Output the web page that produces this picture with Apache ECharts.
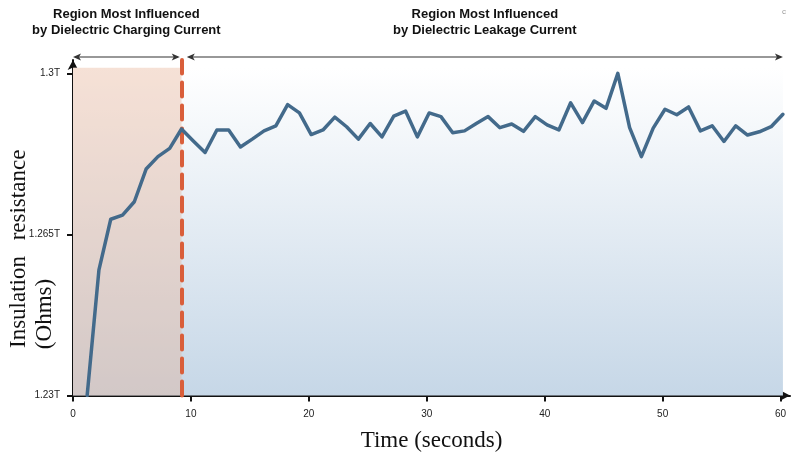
<!DOCTYPE html>
<html>
<head>
<meta charset="utf-8">
<script src="https://cdn.jsdelivr.net/npm/echarts@6/dist/echarts.min.js"></script>
<style>
  html, body { margin: 0; padding: 0; background: #ffffff; }
  #chart { width: 793px; height: 455px; }
</style>
</head>
<body>
<div id="chart"></div>
<script>
// Insulation resistance test: sample times (s) and measured resistance (TΩ)
const timeSec = [
  1.2, 2.2, 3.2, 4.2, 5.2, 6.2, 7.2, 8.2, 9.2, 10.2,
  11.2, 12.2, 13.2, 14.2, 15.2, 16.2, 17.2, 18.2, 19.2, 20.2,
  21.2, 22.2, 23.2, 24.2, 25.2, 26.2, 27.2, 28.2, 29.2, 30.2,
  31.2, 32.2, 33.2, 34.2, 35.2, 36.2, 37.2, 38.2, 39.2, 40.2,
  41.2, 42.2, 43.2, 44.2, 45.2, 46.2, 47.2, 48.2, 49.2, 50.2,
  51.2, 52.2, 53.2, 54.2, 55.2, 56.2, 57.2, 58.2, 59.2, 60.2
];
const resistanceT = [
  1.2300, 1.2573, 1.2683, 1.2692, 1.2721, 1.2792, 1.2819, 1.2837, 1.2879, 1.2853,
  1.2828, 1.2877, 1.2877, 1.2840, 1.2857, 1.2875, 1.2886, 1.2932, 1.2914, 1.2867,
  1.2877, 1.2905, 1.2884, 1.2857, 1.2891, 1.2862, 1.2907, 1.2918, 1.2862, 1.2914,
  1.2906, 1.2871, 1.2875, 1.2891, 1.2906, 1.2882, 1.2890, 1.2874, 1.2906, 1.2888,
  1.2877, 1.2936, 1.2893, 1.2940, 1.2924, 1.3000, 1.2882, 1.2819, 1.2881, 1.2922,
  1.2910, 1.2927, 1.2875, 1.2886, 1.2852, 1.2886, 1.2866, 1.2873, 1.2884, 1.2911
];
const xTicks = [0, 10, 20, 30, 40, 50, 60];
const yTicks = [1.23, 1.265, 1.3];

// Boundary between the charging-current and leakage-current regions (s)
const chargingEnd = 9.2;
const regionTitles = [
  'Region Most Influenced\nby Dielectric Charging Current',
  'Region Most Influenced\nby Dielectric Leakage Current'
];
const regionSpans = [[0, 9.05], [9.65, 60.2]];

const X_MIN = 0, X_MAX = 60.8;
const Y_MIN = 1.23, Y_MAX = 1.3029;
const SHADE_TOP = 1.3012;

const chart = echarts.init(document.getElementById('chart'), null, { renderer: 'canvas' });

const seriesData = timeSec.map((t, i) => [t, resistanceT[i]]);

const axisColor = '#111111';
const tickFont = { fontFamily: 'Liberation Sans, Arial, sans-serif', fontSize: 10, color: '#222222' };

chart.setOption({
  animation: false,
  backgroundColor: '#ffffff',
  grid: { left: 73, right: 3, top: 60, bottom: 59.5, containLabel: false, outerBoundsMode: 'none' },
  xAxis: {
    type: 'value',
    min: X_MIN, max: X_MAX,
    name: 'Time (seconds)',
    nameLocation: 'middle',
    nameGap: 34,
    nameTextStyle: { fontFamily: 'Liberation Serif, Times New Roman, serif', fontSize: 23, color: '#111111' },
    axisLine: { show: true, symbol: ['none', 'arrow'], symbolSize: [8, 10], lineStyle: { color: axisColor, width: 2 } },
    axisTick: { show: true, length: 6, customValues: xTicks, lineStyle: { color: axisColor, width: 2 } },
    axisLabel: { customValues: xTicks, margin: 14, ...tickFont },
    splitLine: { show: false }
  },
  yAxis: {
    type: 'value',
    min: Y_MIN, max: Y_MAX,
    axisLine: { show: true, symbol: ['none', 'arrow'], symbolSize: [8, 10], lineStyle: { color: axisColor, width: 2 } },
    axisTick: { show: true, length: 6, customValues: yTicks, lineStyle: { color: axisColor, width: 2 } },
    axisLabel: { customValues: yTicks, margin: 13, formatter: v => v + 'T', ...tickFont },
    splitLine: { show: false }
  },
  series: [{
    type: 'line',
    data: seriesData,
    showSymbol: false,
    symbol: 'none',
    clip: true,
    z: 5,
    lineStyle: { color: '#436a8b', width: 3.5, join: 'round', cap: 'round' },
    markArea: {
      silent: true,
      data: [
        [
          { xAxis: 0, yAxis: Y_MIN, itemStyle: {
              color: { type: 'linear', x: 0, y: 0, x2: 0, y2: 1,
                colorStops: [{ offset: 0, color: '#ffffff' }, { offset: 1, color: '#c6d7e7' }] } } },
          { xAxis: timeSec[timeSec.length - 1], yAxis: SHADE_TOP }
        ],
        [
          { xAxis: 0, yAxis: Y_MIN, itemStyle: { color: 'rgba(232, 176, 148, 0.38)' } },
          { xAxis: chargingEnd, yAxis: SHADE_TOP }
        ]
      ]
    },
    markLine: {
      silent: true,
      symbol: ['none', 'none'],
      label: { show: false },
      lineStyle: { color: '#d95e3a', width: 4, type: [14, 9], cap: 'round' },
      data: [{ xAxis: chargingEnd }]
    }
  }]
});

// Annotation arrows and region titles above the plot
function px(x, y) { return chart.convertToPixel({ gridIndex: 0 }, [x, y]); }

const arrowY = 57;
const arrowColor = '#333333';
const graphics = [];

function arrowHead(x, y, dir) {
  const len = 8, half = 3.5;
  return {
    type: 'polygon',
    shape: { points: [[x, y], [x - dir * len, y - half], [x - dir * len + dir * 2, y], [x - dir * len, y + half]] },
    style: { fill: arrowColor }
  };
}

regionSpans.forEach((span, i) => {
  const x0 = px(span[0], Y_MIN)[0];
  const x1 = px(span[1], Y_MIN)[0];
  graphics.push({
    type: 'line',
    shape: { x1: x0 + 2, y1: arrowY, x2: x1 - 2, y2: arrowY },
    style: { stroke: arrowColor, lineWidth: 1.2 }
  });
  graphics.push(arrowHead(x0, arrowY, -1));
  graphics.push(arrowHead(x1, arrowY, 1));
  graphics.push({
    type: 'text',
    x: (x0 + x1) / 2,
    y: 22,
    style: {
      text: regionTitles[i],
      align: 'center',
      verticalAlign: 'middle',
      fontFamily: 'Liberation Sans, Arial, sans-serif',
      fontWeight: 'bold',
      fontSize: 13,
      lineHeight: 16,
      fill: '#111111'
    }
  });
});

// Vertical axis title in serif type
const titleFont = { fontFamily: 'Liberation Serif, Times New Roman, serif', fontSize: 23, fill: '#111111', align: 'center', verticalAlign: 'middle' };
graphics.push({ type: 'text', x: 19, y: 302, rotation: Math.PI / 2, style: { text: 'Insulation', ...titleFont } });
graphics.push({ type: 'text', x: 19, y: 195, rotation: Math.PI / 2, style: { text: 'resistance', ...titleFont } });
graphics.push({ type: 'text', x: 45, y: 314, rotation: Math.PI / 2, style: { text: '(Ohms)', ...titleFont } });

// Small corner mark
graphics.push({ type: 'text', x: 784, y: 12, style: { text: 'c', fontSize: 8, fill: '#999999', align: 'center', verticalAlign: 'middle', fontFamily: 'Liberation Sans, Arial, sans-serif' } });

chart.setOption({ graphic: { elements: graphics } });
</script>
</body>
</html>
